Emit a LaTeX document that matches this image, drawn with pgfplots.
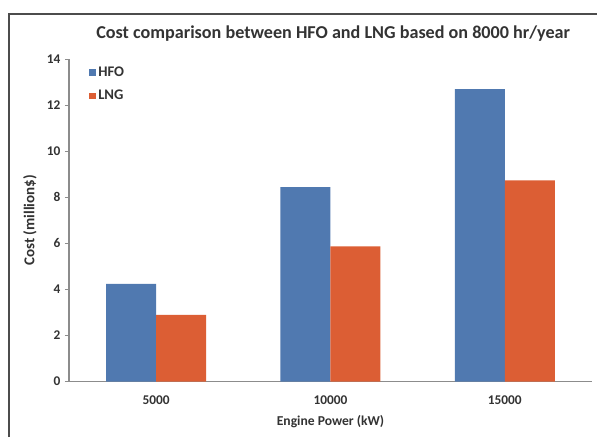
\documentclass[border=0pt]{standalone}
\usepackage{fontspec}
\setmainfont{Carlito}
\usepackage{pgfplots}
\pgfplotsset{compat=1.18}
\definecolor{hfo}{HTML}{5079B0}
\definecolor{lng}{HTML}{DC5E34}
\definecolor{axgray}{HTML}{8C8C8C}
\definecolor{txt}{HTML}{333333}
\begin{document}
\begin{tikzpicture}
\useasboundingbox[fill=white] (-51.75pt,-41.5pt) rectangle (396pt,286.25pt);
\draw[line width=1.5pt, color=black!70] (-45pt,-41.5pt) -- (-45pt,275.4pt) -- (396pt,275.4pt);
\begin{axis}[
  at={(0pt,0pt)}, anchor=south west,
  scale only axis, width=392.25pt, height=241.8pt,
  xmin=-0.5, xmax=2.5, ymin=0, ymax=14,
  ybar=0pt, bar width=37.5pt,
  xtick={0,1,2}, xticklabels={5000,10000,15000},
  ytick={0,2,...,14},
  axis lines*=left,
  axis line style={draw=axgray, line width=0.8pt, -},
  xtick style={draw=none},
  ytick style={draw=axgray, line width=0.8pt},
  tick align=outside, major tick length=3pt,
  ytick pos=left,
  /pgf/number format/assume math mode=true,
  tick label style={font=\bfseries\fontsize{10}{12}\selectfont, text=txt},
  xticklabel style={yshift=-4pt},
  title={Cost comparison between HFO and LNG based on 8000 hr/year},
  title style={at={(axis description cs:0.5,1.085)}, anchor=center, yshift=-7pt, xshift=2pt, font=\bfseries\fontsize{13.6}{15}\selectfont, text=txt},
  xlabel={Engine Power (kW)},
  xlabel style={at={(axis description cs:0.5,-0.125)}, anchor=center, font=\bfseries\fontsize{10.2}{12}\selectfont, text=txt},
  ylabel={Cost (million\$)},
  ylabel style={at={(axis description cs:-0.0746,0.5)}, anchor=center, font=\bfseries\fontsize{11.3}{12}\selectfont, text=txt},
  legend style={at={(axis description cs:0.03,0.995)}, anchor=north west, draw=none, fill=none,
    font=\bfseries\fontsize{11}{12}\selectfont, text=txt, row sep=5pt, cells={anchor=west}},
  legend image code/.code={\fill[#1] (0pt,-2.5pt) rectangle (5pt,2.5pt);},
]
\addplot[fill=hfo, draw=none] coordinates {(0,4.25) (1,8.45) (2,12.7)};
\addplot[fill=lng, draw=none] coordinates {(0,2.9) (1,5.87) (2,8.74)};
\legend{HFO,LNG}
\end{axis}
\end{tikzpicture}
\end{document}
